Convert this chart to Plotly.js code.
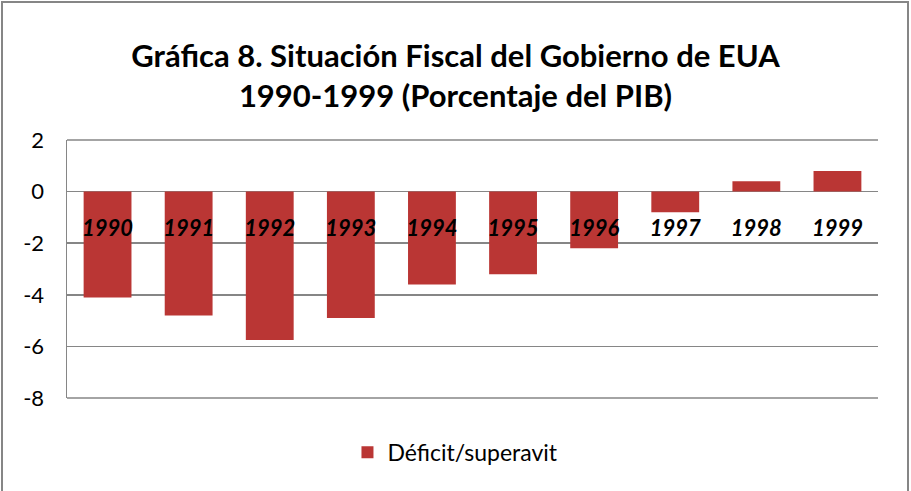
<!DOCTYPE html>
<html>
<head>
<meta charset="utf-8">
<script src="https://cdn.plot.ly/plotly-3.0.1.min.js"></script>
<style>
  html, body { margin: 0; padding: 0; background: #fff; overflow: hidden; }
  #wrap { position: relative; width: 911px; height: 491px; overflow: hidden; }
  #chart { width: 911px; height: 491px; }
  #frame { position: absolute; left: 1px; top: 1px; width: 908px; height: 520px;
           box-sizing: border-box; border: 2px solid #868686; pointer-events: none; }
</style>
</head>
<body>
<div id="wrap">
  <div id="chart"></div>
  <div id="frame"></div>
</div>
<script>
const years = ['1990','1991','1992','1993','1994','1995','1996','1997','1998','1999'];
const balance = [-4.1, -4.8, -5.75, -4.9, -3.6, -3.2, -2.2, -0.8, 0.4, 0.8];
const seriesName = 'Déficit/superavit';
const titleText = 'Gráfica 8. Situación Fiscal del Gobierno de EUA<br>1990-1999 (Porcentaje del PIB)';
const yTicks = [2, 0, -2, -4, -6, -8];
const yRange = [-8, 2];

const FONT = 'Lato, "Open Sans", sans-serif';
const GRID = '#868686';

const trace = {
  type: 'bar',
  x: years,
  y: balance,
  name: seriesName,
  marker: { color: '#BA3634', line: { width: 0 } },
  hoverinfo: 'x+y',
  showlegend: true
};

const layout = {
  width: 911,
  height: 491,
  margin: { l: 67, r: 33, t: 140, b: 93 },
  paper_bgcolor: 'rgba(0,0,0,0)',
  plot_bgcolor: '#fff',
  font: { family: FONT, color: '#000' },
  title: {
    text: titleText,
    font: { family: FONT, size: 31, color: '#000', weight: 'bold' },
    x: 0.5, xanchor: 'center',
    y: 1 - 67 / 491, yanchor: 'middle', yref: 'container'
  },
  bargap: 0.41,
  xaxis: {
    type: 'category',
    anchor: 'free',
    position: (0 - yRange[0]) / (yRange[1] - yRange[0]),
    showgrid: false,
    showline: false,
    zeroline: false,
    ticks: '',
    ticklabelstandoff: 21,
    tickfont: { family: FONT, size: 22, color: '#000', weight: 'bold', style: 'italic' }
  },
  yaxis: {
    range: yRange,
    tickvals: yTicks,
    ticktext: yTicks.map(String),
    showgrid: true,
    gridcolor: GRID,
    gridwidth: 1.5,
    zeroline: true,
    zerolinecolor: GRID,
    zerolinewidth: 1.5,
    showline: true,
    linecolor: GRID,
    linewidth: 1.5,
    ticks: '',
    ticklabelstandoff: 17,
    tickfont: { family: FONT, size: 22, color: '#000' }
  },
  shapes: [
    { type: 'line', xref: 'paper', yref: 'paper', x0: 0, x1: 1, y0: 1, y1: 1,
      line: { color: GRID, width: 1.5 }, layer: 'below' },
    { type: 'line', xref: 'paper', yref: 'paper', x0: 0, x1: 1, y0: 0, y1: 0,
      line: { color: GRID, width: 1.5 }, layer: 'below' }
  ],
  legend: {
    orientation: 'h',
    x: 0.479, xanchor: 'center',
    y: -0.21, yanchor: 'middle',
    font: { family: FONT, size: 23, color: '#000' },
    bgcolor: 'rgba(0,0,0,0)'
  }
};

Plotly.newPlot('chart', [trace], layout, { displayModeBar: false, staticPlot: true });
</script>
</body>
</html>
